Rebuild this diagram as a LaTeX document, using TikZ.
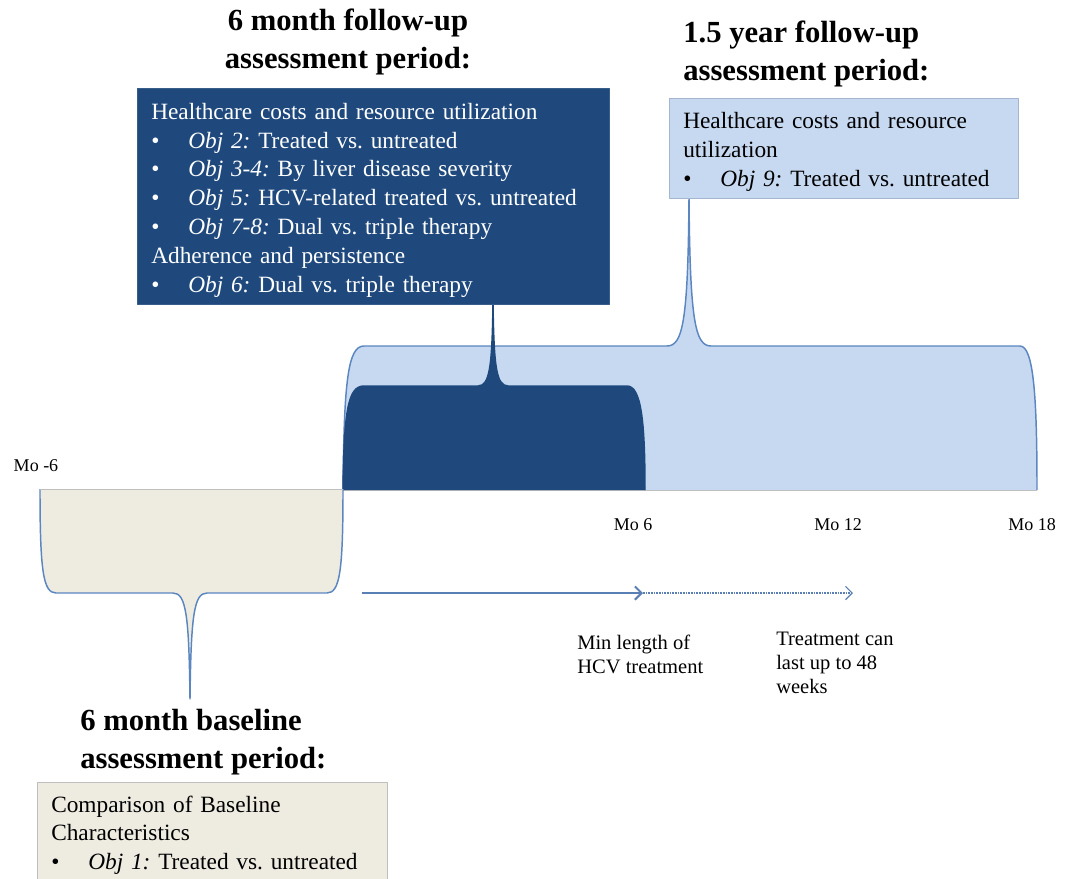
\documentclass[tikz,border=0pt]{standalone}
\usepackage{fontspec}
\setmainfont{Liberation Serif}
\usetikzlibrary{arrows.meta, positioning}

\definecolor{navyfill}{HTML}{1F497D}
\definecolor{navyedge}{HTML}{385D8A}
\definecolor{palefill}{HTML}{C6D9F1}
\definecolor{paleedge}{HTML}{A3B5CF}
\definecolor{braceedge}{HTML}{5B86C0}
\definecolor{sandfill}{HTML}{EEECE1}
\definecolor{sandedge}{HTML}{BFBFBF}
\definecolor{arrowblue}{HTML}{5A7FB5}

\frenchspacing
\newcommand{\objline}[2]{\makebox[27.75pt][l]{\textbullet}\textit{Obj #1:} #2}
\newcommand{\topgap}{\rule{0pt}{18pt}}

\tikzset{
  periodtitle/.style={font=\fontsize{23}{28.5}\selectfont\bfseries, inner sep=0pt},
  infobox/.style={anchor=north west, align=left, inner xsep=10.5pt,
      font=\fontsize{17.5}{21.6}\selectfont},
  molabel/.style={font=\fontsize{13.5}{16}\selectfont, inner sep=0pt},
  note/.style={anchor=north west, align=left, inner sep=0pt,
      font=\fontsize{15.4}{18}\selectfont},
  braceline/.style={line width=1.1pt},
  trtarrow/.style={draw=arrowblue, ->},
}

\begin{document}
\begin{tikzpicture}[x=0.75pt, y=-0.75pt, >={Straight Barb[length=5pt, width=10pt]}, line join=round]

    \clip (0,0) rectangle (1065,879);

    % 1.5 year follow-up brace
    \filldraw[braceline, fill=palefill, draw=braceedge] (343,490)
        .. controls (344,380) and (348,346) .. (364,346) -- (667,346)
        .. controls (683,346) and (688,320) .. (689,198)
        .. controls (690,320) and (695,346) .. (711,346) -- (1020,346)
        .. controls (1034,346) and (1037,400) .. (1037,490);
    \draw[sandedge, thin] (343,490) -- (1037,490);

    % 6 month follow-up brace
    \filldraw[braceline, fill=navyfill, draw=navyfill] (343,490)
        .. controls (344,410) and (348,386) .. (364,386) -- (478,386)
        .. controls (490,386) and (492,365) .. (493,304)
        .. controls (494,365) and (496,386) .. (508,386) -- (627,386)
        .. controls (641,386) and (645,420) .. (645,490);

    % 6 month baseline brace
    \filldraw[braceline, fill=sandfill, draw=braceedge] (40,489)
        .. controls (40,570) and (43,593) .. (56,593) -- (173,593)
        .. controls (186,593) and (189,615) .. (190,699)
        .. controls (191,615) and (194,593) .. (207,593) -- (327,593)
        .. controls (340,593) and (343,570) .. (343,489);
    \draw[sandedge, thin] (40,489) -- (343,489);

    % titles
    \node[periodtitle, align=center] (followtitle) at (348,42) {6 month follow-up\\assessment period:};
    \node[periodtitle, align=left, anchor=west] (pasttitle) at (683,54) {1.5 year follow-up\\assessment period:};
    \node[periodtitle, align=left, anchor=west] (basetitle) at (80,742) {6 month baseline\\assessment period:};

    % boxes
    \node[infobox, fill=navyfill, draw=navyedge, text=white, text width=333pt,
          minimum height=162pt] (followbox) at (137,88) {%
        \topgap Healthcare costs and resource utilization\\
        \objline{2}{Treated vs. untreated}\\
        \objline{3-4}{By liver disease severity}\\
        \objline{5}{HCV-related treated vs. untreated}\\
        \objline{7-8}{Dual vs. triple therapy}\\
        Adherence and persistence\\
        \objline{6}{Dual vs. triple therapy}};
    \node[infobox, fill=palefill, draw=paleedge, text width=240.75pt,
          minimum height=75pt] (pastbox) at (669,98) {%
        \topgap Healthcare costs and resource\\
        utilization\\
        \objline{9}{Treated vs. untreated}};
    \node[infobox, fill=sandfill, draw=sandedge, text width=241.5pt,
          inner ysep=10pt] (basebox) at (37,782) {%
        Comparison of Baseline\\
        Characteristics\\
        \objline{1}{Treated vs. untreated}};

    % month labels
    \node[molabel] (mominus6) at (36,466) {Mo -6};
    \node[molabel] (mo6) at (633,525) {Mo 6};
    \node[molabel] (mo12) at (838,525) {Mo 12};
    \node[molabel] (mo18) at (1032,525) {Mo 18};

    % treatment length
    \coordinate (trtstart) at (362,593);
    \coordinate (trtmin) at (643,593);
    \coordinate (trtmax) at (853,593);
    \draw[trtarrow, line width=1.5pt] (trtstart) -- (trtmin);
    \draw[trtarrow, line width=0.9pt, dash pattern=on 1.2pt off 0.8pt] (trtmin) -- (trtmax);

    \node[note] (minnote) at (577,635) {Min length of\\HCV treatment};
    \node[note] (maxnote) at (776,632) {Treatment can\\last up to 48\\weeks};

\end{tikzpicture}
\end{document}
